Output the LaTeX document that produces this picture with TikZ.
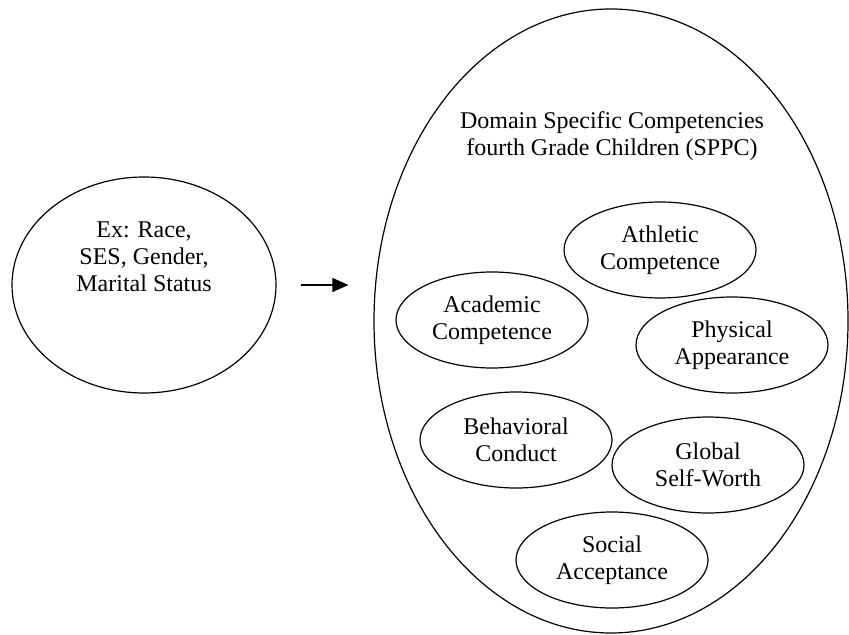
\documentclass[tikz,border=0pt]{standalone}
\usepackage{fontspec}
\setmainfont{Liberation Serif}
\usetikzlibrary{arrows.meta,  % arrow tips
  shapes.geometric}           % ellipse nodes

\begin{document}
\begin{tikzpicture}[x=0.5pt,y=-0.5pt,line width=0.6pt,>={Triangle[length=8pt,width=7pt]},
  % one unit = one pixel of the page, y runs downwards
  % text of all nodes: 12pt serif, centred lines
  every node/.style={font=\fontsize{12}{13.5}\selectfont,align=center},
  {big oval}/.style={ellipse,draw,inner sep=0pt},
  {subscale}/.style={ellipse,draw,inner sep=0pt,minimum width=96pt,minimum height=48pt}]

  \useasboundingbox (0,0) rectangle (849,635);

  % demographic variables
  \node [big oval,minimum width=132pt,minimum height=108pt] (demo) at (144,285) {};
  \node (demotext) at (144,257) {Ex: Race,\\SES, Gender,\\Marital Status};

  % the competencies
  \node [big oval,minimum width=237pt,minimum height=312pt] (sppc) at (611,321) {};
  \node (title) at (612,136) {Domain Specific Competencies\\fourth Grade Children (SPPC)};

  \node [subscale] (athletic) at (660,250) {Athletic\\Competence};
  \node [subscale] (academic) at (492,320) {Academic\\Competence};
  \node [subscale] (physical) at (732,345) {Physical\\Appearance};
  \node [subscale] (behavior) at (516,440) {Behavioral\\Conduct};
  \node [subscale] (global) at (708,465) {Global\\Self-Worth};
  \node [subscale] (social) at (612,560) {Social\\Acceptance};

  \draw [->,shorten <=12pt,shorten >=12.5pt] (demo.east) -- (demo.east -| sppc.west);

\end{tikzpicture}
\end{document}
